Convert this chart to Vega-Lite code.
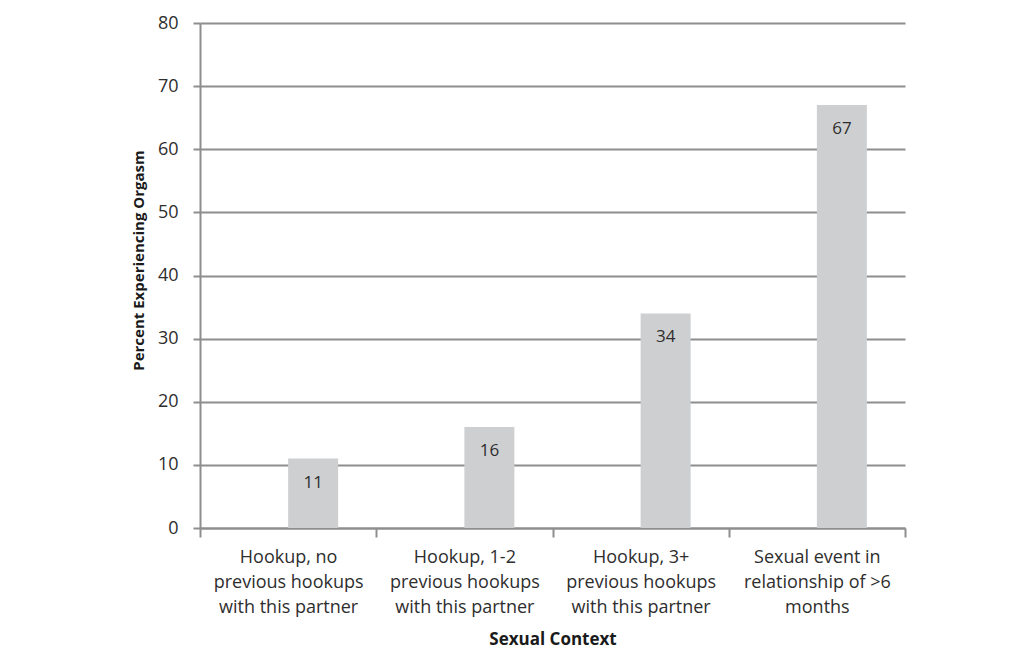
{
  "$schema": "https://vega.github.io/schema/vega-lite/v6.json",
  "autosize": {"type": "none"},
  "padding": {"left": 200, "top": 23, "right": 118, "bottom": 123},
  "width": 705,
  "height": 505,
  "background": "white",
  "config": {"view": {"stroke": null}, "font": "Open Sans"},
  "data": {
    "values": [
      {"context": "Hookup, no previous hookups with this partner", "series": "B", "percent": 11},
      {"context": "Hookup, 1-2 previous hookups with this partner", "series": "B", "percent": 16},
      {"context": "Hookup, 3+ previous hookups with this partner", "series": "B", "percent": 34},
      {"context": "Sexual event in relationship of >6 months", "series": "B", "percent": 67}
    ]
  },
  "encoding": {
    "x": {
      "field": "context",
      "type": "nominal",
      "sort": null,
      "scale": {"paddingInner": 0, "paddingOuter": 0},
      "axis": {
        "title": "Sexual Context",
        "titleFontSize": 17,
        "titleFontWeight": "bold",
        "titleColor": "#1a1a1a",
        "titlePadding": 15,
        "labelAngle": 0,
        "labelFontSize": 18,
        "labelColor": "#2e2e2e",
        "labelLineHeight": 25,
        "labelPadding": 11,
        "labelExpr": "datum.value == 'Hookup, no previous hookups with this partner' ? ['Hookup, no', 'previous hookups', 'with this partner'] : datum.value == 'Hookup, 1-2 previous hookups with this partner' ? ['Hookup, 1-2', 'previous hookups', 'with this partner'] : datum.value == 'Hookup, 3+ previous hookups with this partner' ? ['Hookup, 3+', 'previous hookups', 'with this partner'] : datum.value == 'Sexual event in relationship of >6 months' ? ['Sexual event in', 'relationship of >6', 'months'] : ''",
        "tickBand": "extent",
        "tickSize": 9,
        "tickWidth": 2,
        "tickColor": "#8e8e8e",
        "domainColor": "#8e8e8e",
        "domainWidth": 2,
        "grid": false
      }
    },
    "xOffset": {
      "field": "series",
      "type": "nominal",
      "scale": {"domain": ["A", "B"], "paddingInner": 0, "paddingOuter": 0.7625}
    },
    "y": {
      "field": "percent",
      "type": "quantitative",
      "scale": {"domain": [0, 80]},
      "axis": {
        "title": "Percent Experiencing Orgasm",
        "titleFontSize": 15,
        "titleFontWeight": "bold",
        "titleColor": "#1a1a1a",
        "titlePadding": 11,
        "titleY": 237,
        "values": [0, 10, 20, 30, 40, 50, 60, 70, 80],
        "labelFontSize": 18,
        "labelColor": "#2e2e2e",
        "labelPadding": 15,
        "tickSize": 7,
        "tickWidth": 2,
        "tickColor": "#8e8e8e",
        "domainColor": "#8e8e8e",
        "domainWidth": 2,
        "gridColor": "#8e8e8e",
        "gridWidth": 2
      }
    }
  },
  "layer": [
    {"mark": {"type": "bar", "color": "#cecfd1"}},
    {
      "mark": {"type": "text", "baseline": "middle", "dy": 24, "fontSize": 17, "color": "#2e2e2e"},
      "encoding": {"text": {"field": "percent", "type": "quantitative"}}
    }
  ]
}
